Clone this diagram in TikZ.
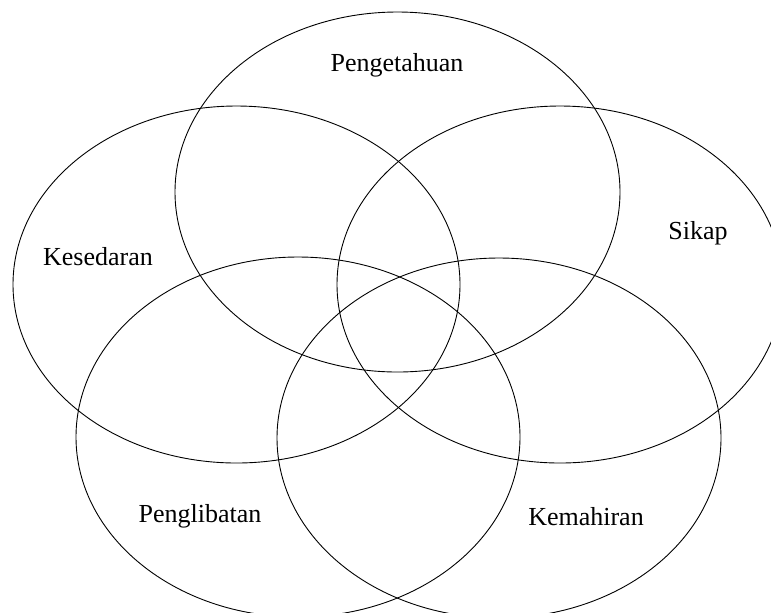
\documentclass[tikz,border=0pt]{standalone}
\usepackage{fontspec}
\setmainfont{Liberation Serif}
\usetikzlibrary{shapes.geometric}
\tikzset{
  ring/.style={
    draw,
    ellipse,
    line width=0.45pt,
    inner sep=0pt
  },
  lbl/.style={font=\fontsize{13}{15}\selectfont, inner sep=1pt}
}

\begin{document}
\begin{tikzpicture}[x=0.5pt, y=-0.5pt]

  \useasboundingbox (0,0) rectangle (771,612);
  \clip (0,0) rectangle (771,612);

  % the five rings
  \node[ring, minimum width=222.5pt, minimum height=180pt] (know) at (397.5,192) {};
  \node[ring, minimum width=223.5pt, minimum height=178.5pt] (aware) at (236.5,284.5) {};
  \node[ring, minimum width=223pt, minimum height=178.5pt] (attitude) at (560,284.5) {};
  \node[ring, minimum width=222pt, minimum height=180pt] (involve) at (298,437) {};
  \node[ring, minimum width=222pt, minimum height=180pt] (skill) at (499,438) {};

  % labels
  \node[lbl] (knowtxt) at (397,65) {Pengetahuan};
  \node[lbl] (awaretxt) at (98,257) {Kesedaran};
  \node[lbl] (attitudetxt) at (698,233) {Sikap};
  \node[lbl] (involvetxt) at (200,516) {Penglibatan};
  \node[lbl] (skilltxt) at (586,517) {Kemahiran};

\end{tikzpicture}
\end{document}
